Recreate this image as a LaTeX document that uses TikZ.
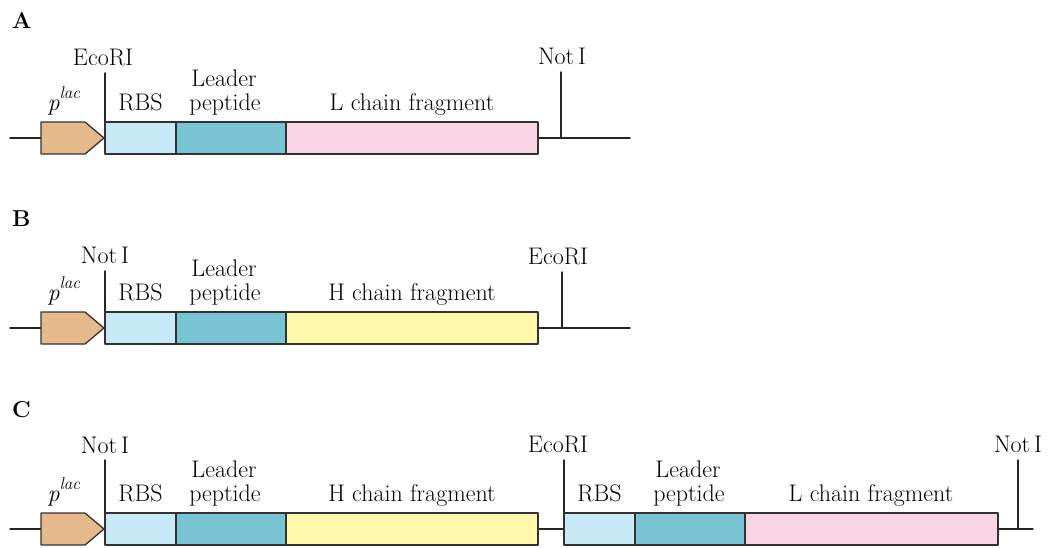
\documentclass[tikz,border=0pt]{standalone}
\usepackage{tkz-euclide}
\usetikzlibrary{calc}
\definecolor{PromClr}{RGB}{230,185,140}
\definecolor{RbsClr}{RGB}{199,233,248}
\definecolor{LeadClr}{RGB}{120,196,210}
\definecolor{LClr}{RGB}{249,213,230}
\definecolor{HClr}{RGB}{255,247,170}
\definecolor{EdgeClr}{RGB}{50,50,50}
\newcommand{\plac}{\textit{p}\raisebox{12pt}{\fontsize{17}{17}\selectfont\textit{lac}}}
\tikzset{
  seg/.style={draw=EdgeClr,line width=1.3pt},
  dna/.style={draw=black!85,line width=1.4pt},
  lbl/.style={anchor=base,inner sep=0pt,font=\fontsize{24}{28}\selectfont},
  panel/.style={anchor=base west,inner sep=0pt,font=\fontsize{23}{27}\selectfont\bfseries}
}

\begin{document}
\begin{tikzpicture}[x=1pt,y=-1pt]
\useasboundingbox (0,0) rectangle (1059,547);

% A
\node[panel] (pA) at (12,28) {A};
\begin{scope}[shift={(0,138)}]
\tkzDefPoints{10/0/Wa,630/0/Wb,41/-16/P1,85/-16/P2,104/0/P3,85/16/P4,41/16/P5}
\tkzDefPoints{105/-16/T1,176/-16/T2,286/-16/T3,538/-16/T4,105/16/B1,176/16/B2,286/16/B3,538/16/B4}
\tkzDefPoints{105/-65/S1,561/-66/S2,561/0/S3}
\tkzDrawSegments[dna](Wa,Wb S1,T1 S2,S3)
\tkzDrawPolygon[seg,fill=PromClr](P1,P2,P3,P4,P5)
\tkzDrawPolygon[seg,fill=RbsClr](T1,T2,B2,B1)
\tkzDrawPolygon[seg,fill=LeadClr](T2,T3,B3,B2)
\tkzDrawPolygon[seg,fill=LClr](T3,T4,B4,B3)
\node[lbl] (ecoA) at (103,-73) {EcoRI};
\node[lbl] (notA) at (562,-74) {Not\,I};
\node[lbl] (promA) at (64,-28) {\plac};
\node[lbl] (rbsA) at (140.5,-28) {RBS};
\node[lbl] (leadA) at (224,-52) {Leader};
\node[lbl] (pepA) at (225,-28) {peptide};
\node[lbl] (chainA) at (412,-28) {L chain fragment};
\end{scope}

% B
\node[panel] (pB) at (12,226) {B};
\begin{scope}[shift={(0,328)}]
\tkzDefPoints{10/0/Wa,630/0/Wb,41/-16/P1,85/-16/P2,104/0/P3,85/16/P4,41/16/P5}
\tkzDefPoints{105/-16/T1,176/-16/T2,286/-16/T3,538/-16/T4,105/16/B1,176/16/B2,286/16/B3,538/16/B4}
\tkzDefPoints{105/-57/S1,562/-56/S2,562/0/S3}
\tkzDrawSegments[dna](Wa,Wb S1,T1 S2,S3)
\tkzDrawPolygon[seg,fill=PromClr](P1,P2,P3,P4,P5)
\tkzDrawPolygon[seg,fill=RbsClr](T1,T2,B2,B1)
\tkzDrawPolygon[seg,fill=LeadClr](T2,T3,B3,B2)
\tkzDrawPolygon[seg,fill=HClr](T3,T4,B4,B3)
\node[lbl] (notB) at (105,-65) {Not\,I};
\node[lbl] (ecoB) at (558,-64) {EcoRI};
\node[lbl] (promB) at (64,-28) {\plac};
\node[lbl] (rbsB) at (140.5,-28) {RBS};
\node[lbl] (leadB) at (224,-52) {Leader};
\node[lbl] (pepB) at (225,-28) {peptide};
\node[lbl] (chainB) at (412,-28) {H chain fragment};
\end{scope}

% C
\node[panel] (pC) at (12,417) {C};
\begin{scope}[shift={(0,529)}]
\tkzDefPoints{10/0/Wa,1033/0/Wb,41/-16/P1,85/-16/P2,104/0/P3,85/16/P4,41/16/P5}
\tkzDefPoints{105/-16/T1,176/-16/T2,286/-16/T3,538/-16/T4,105/16/B1,176/16/B2,286/16/B3,538/16/B4}
\tkzDefPoints{564/-16/T5,635/-16/T6,745/-16/T7,998/-16/T8,564/16/B5,635/16/B6,745/16/B7,998/16/B8}
\tkzDefPoints{105/-69/S1,564/-69/S2,1018/-69/S3,1018/0/S4}
\tkzDrawSegments[dna](Wa,Wb S1,T1 S2,T5 S3,S4)
\tkzDrawPolygon[seg,fill=PromClr](P1,P2,P3,P4,P5)
\tkzDrawPolygon[seg,fill=RbsClr](T1,T2,B2,B1)
\tkzDrawPolygon[seg,fill=LeadClr](T2,T3,B3,B2)
\tkzDrawPolygon[seg,fill=HClr](T3,T4,B4,B3)
\tkzDrawPolygon[seg,fill=RbsClr](T5,T6,B6,B5)
\tkzDrawPolygon[seg,fill=LeadClr](T6,T7,B7,B6)
\tkzDrawPolygon[seg,fill=LClr](T7,T8,B8,B7)
\node[lbl] (notC) at (105,-76) {Not\,I};
\node[lbl] (ecoC) at (558,-77) {EcoRI};
\node[lbl] (notCC) at (1018,-77) {Not\,I};
\node[lbl] (promC) at (64,-28) {\plac};
\node[lbl] (rbsC) at (140.5,-28) {RBS};
\node[lbl] (leadC) at (224,-52) {Leader};
\node[lbl] (pepC) at (225,-28) {peptide};
\node[lbl] (chainC) at (412,-28) {H chain fragment};
\node[lbl] (rbsCC) at (599.5,-28) {RBS};
\node[lbl] (leadCC) at (688,-52) {Leader};
\node[lbl] (pepCC) at (689,-28) {peptide};
\node[lbl] (chainCC) at (871,-28) {L chain fragment};
\end{scope}

\end{tikzpicture}
\end{document}
